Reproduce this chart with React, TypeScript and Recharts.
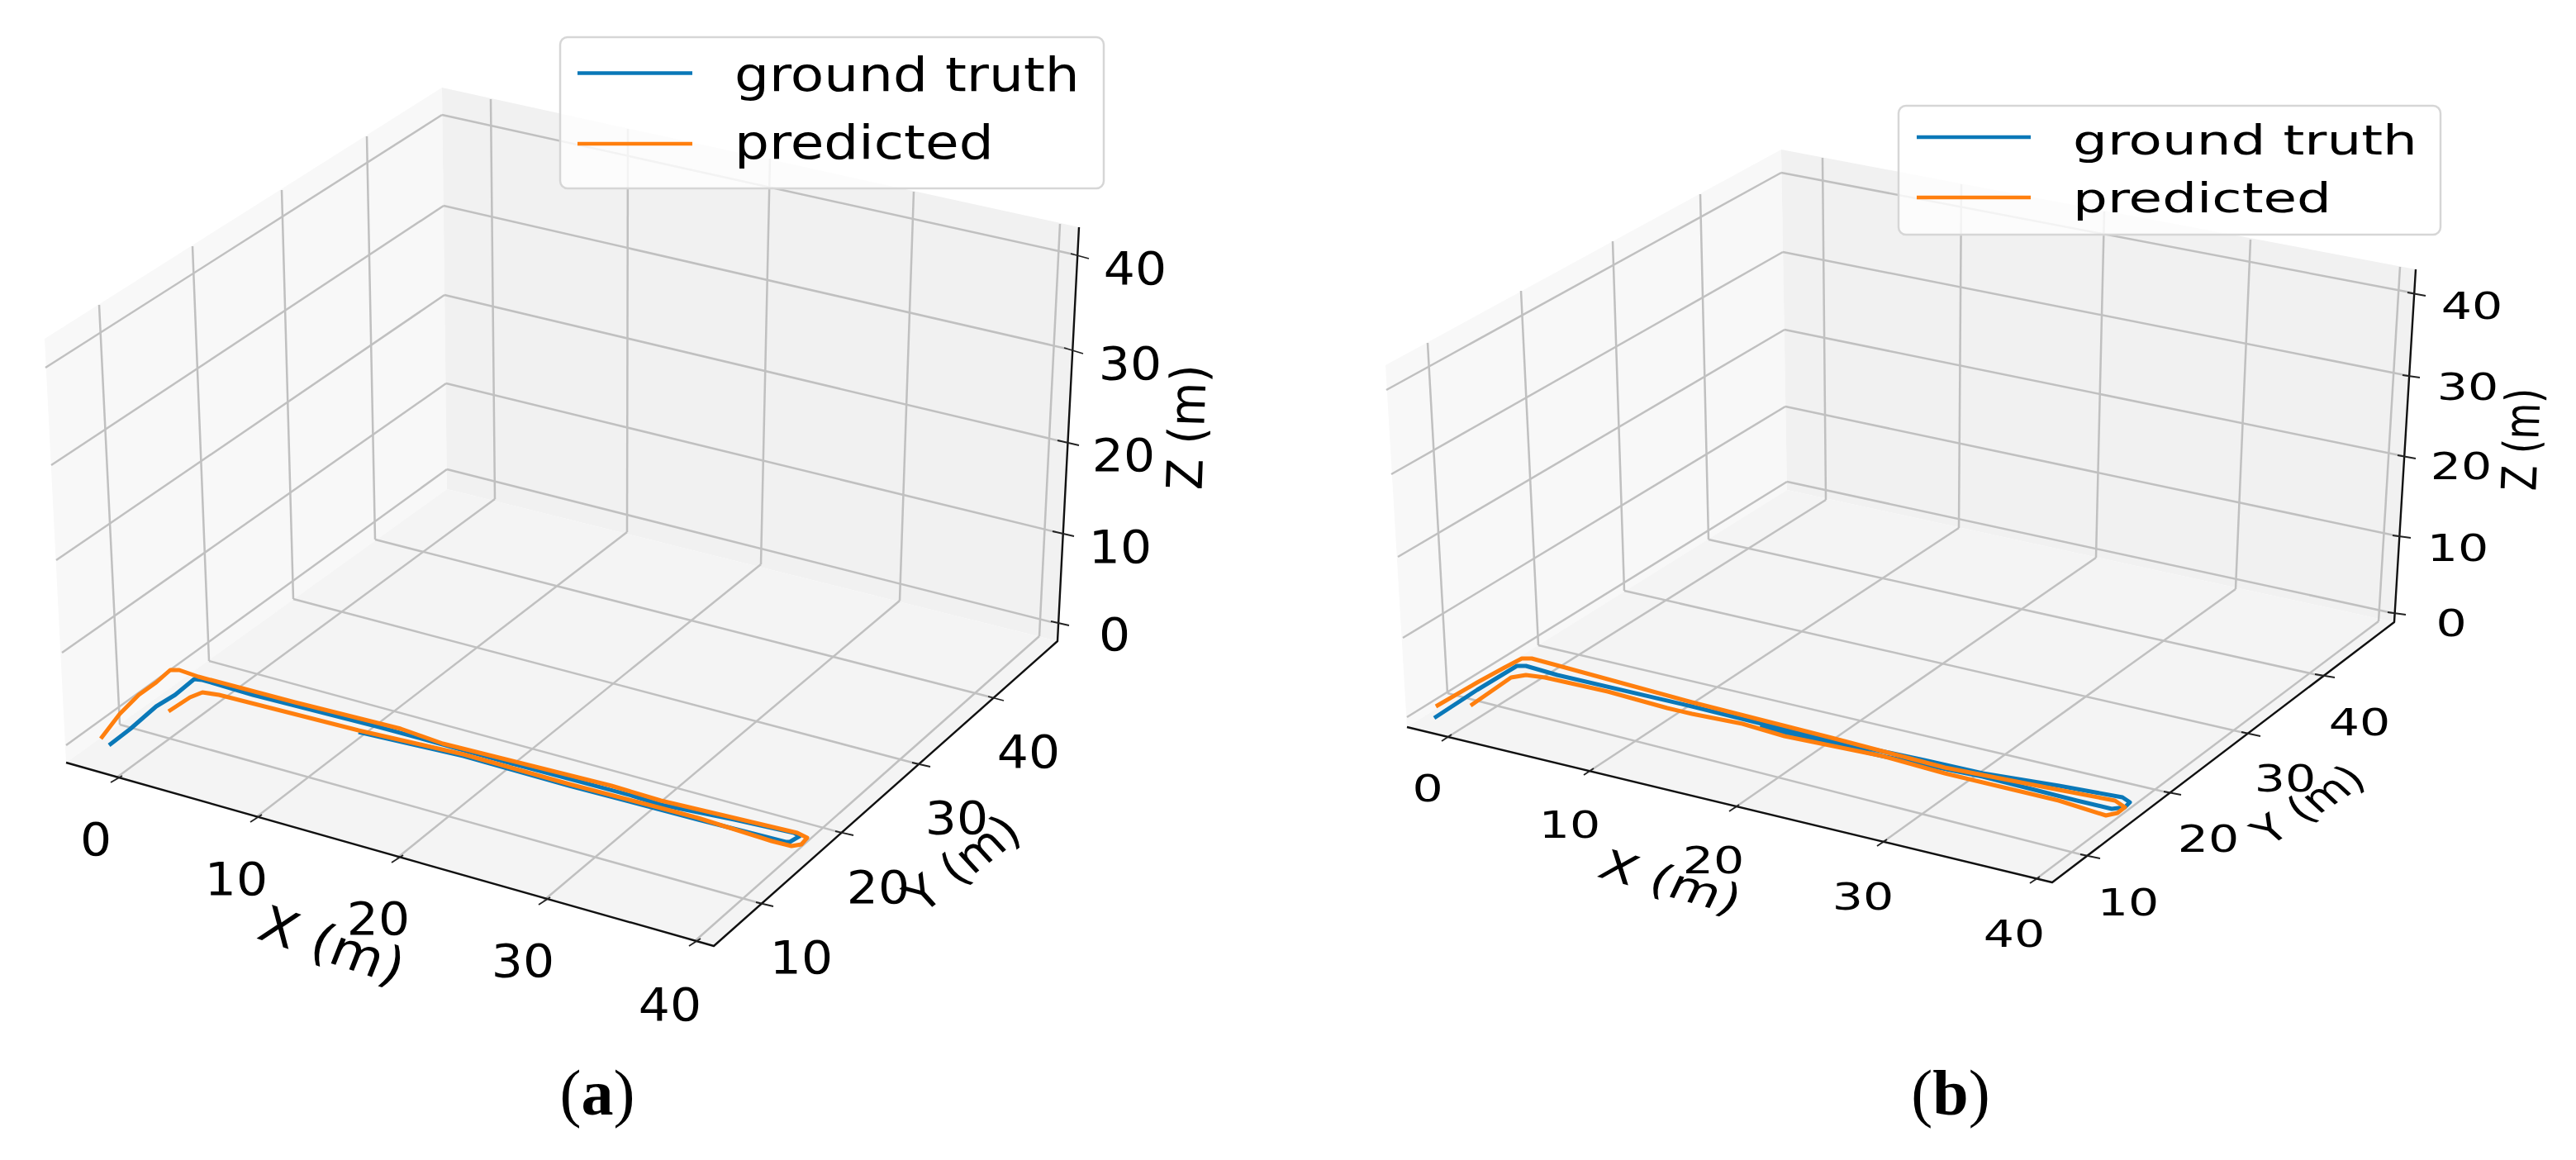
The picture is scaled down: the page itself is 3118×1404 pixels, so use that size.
import { Legend, ScatterChart, Scatter, XAxis, YAxis } from 'recharts';

type Pt = [number, number];
type Seg = [number, number, number, number];
type Lbl = [string, number, number];

const BLUE = '#0a78b8';
const ORANGE = '#ff7f0e';
const GRID = '#c0c0c0';
const SERIES_NAMES = ['ground truth', 'predicted'];
const Z_LABELS = ['40', '30', '20', '10', '0'];
const XY_LABELS = ['0', '10', '20', '30', '40'];

// ---- panel (a), everything in its pixel plane ----
const aLeftWall: Pt[] = [[54, 410], [535, 106], [541, 592], [80, 923]];
const aRightWall: Pt[] = [[535, 106], [1306, 275], [1280, 776], [541, 592]];
const aFloor: Pt[] = [[541, 592], [1280, 776], [864, 1145], [80, 923]];
const aGrid: Seg[] = [
  [535, 139, 55, 445], [537, 249, 62, 563], [538, 357, 68, 678], [540, 464, 75, 790], [541, 568, 80, 902],
  [535, 139, 1300, 308], [537, 249, 1291, 422], [538, 357, 1284, 534], [540, 464, 1278, 644], [541, 568, 1273, 753],
  [594, 120, 599, 604], [760, 156, 759, 644], [932, 192, 921, 683], [1106, 232, 1089, 727], [1283, 271, 1258, 770],
  [120, 369, 145, 877], [233, 298, 253, 800], [341, 230, 355, 725], [444, 165, 454, 653],
  [599, 604, 140, 942], [759, 644, 309, 990], [921, 683, 480, 1039], [1089, 727, 658, 1090], [1258, 770, 840, 1140],
  [145, 877, 923, 1094], [253, 800, 1019, 1008], [355, 725, 1112, 925], [454, 653, 1204, 845],
];
const aAxes: Pt[] = [[80, 923], [864, 1145], [1280, 776], [1306, 275]];
const aTicks: Seg[] = [
  [134, 947, 148, 939], [303, 995, 317, 986], [474, 1044, 488, 1035], [652, 1095, 666, 1086], [834, 1145, 848, 1136],
  [915, 1092, 936, 1097], [1011, 1006, 1033, 1011], [1104, 923, 1126, 928], [1196, 843, 1215, 848],
  [1296, 307, 1318, 313], [1288, 421, 1311, 428], [1280, 533, 1306, 539], [1274, 643, 1300, 649], [1272, 752, 1294, 757],
];
const aTruth: Pt[] = [
  [132, 902], [158, 882], [189, 855], [212, 841], [235, 822], [245, 823], [306, 841], [459, 880], [612, 922],
  [765, 963], [800, 974], [889, 992], [961, 1008], [968, 1012], [956, 1019], [951, 1019], [845, 992], [689, 951],
  [561, 915], [434, 886],
];
const aPredicted: Pt[] = [
  [122, 894], [145, 864], [168, 841], [189, 826], [206, 811], [217, 811], [240, 819], [357, 850], [485, 882],
  [536, 900], [612, 919], [740, 951], [800, 969], [889, 990], [965, 1008], [977, 1014], [970, 1022], [958, 1024],
  [934, 1018], [845, 990], [800, 978], [689, 949], [561, 913], [434, 884], [265, 841], [245, 838], [230, 844], [204, 861],
];
const aXPos: Pt[] = [[116, 1016], [286, 1064], [458, 1112], [633, 1163], [811, 1216]];
const aYPos: Pt[] = [[970, 1159], [1063, 1074], [1158, 990], [1245, 910]];
const aZPos: Pt[] = [[1374, 325], [1368, 440], [1360, 551], [1356, 662], [1349, 768]];

// ---- panel (b) ----
const bLeftWall: Pt[] = [[1677, 442], [2156, 181], [2163, 593], [1703, 880]];
const bRightWall: Pt[] = [[2156, 181], [2924, 326], [2898, 753], [2163, 593]];
const bFloor: Pt[] = [[2163, 593], [2898, 753], [2484, 1068], [1703, 880]];
const bGrid: Seg[] = [
  [2156, 209, 1678, 472], [2158, 305, 1684, 574], [2160, 399, 1692, 674], [2161, 492, 1698, 772], [2163, 583, 1703, 868],
  [2156, 209, 2923, 355], [2158, 305, 2916, 455], [2160, 399, 2909, 552], [2161, 492, 2903, 649], [2163, 583, 2896, 742],
  [2206, 191, 2210, 605], [2374, 223, 2371, 639], [2547, 256, 2537, 675], [2724, 290, 2706, 713], [2905, 323, 2879, 752],
  [1728, 415, 1752, 839], [1841, 352, 1862, 781], [1952, 292, 1966, 715], [2058, 235, 2068, 653],
  [2210, 605, 1751, 893], [2371, 639, 1923, 934], [2537, 675, 2099, 978], [2706, 713, 2278, 1020], [2879, 752, 2463, 1065],
  [1752, 839, 2526, 1036], [1862, 781, 2627, 960], [1966, 715, 2721, 888], [2068, 653, 2810, 818],
];
const bAxes: Pt[] = [[1703, 880], [2484, 1068], [2898, 753], [2924, 326]];
const bTicks: Seg[] = [
  [1745, 897, 1757, 889], [1917, 938, 1929, 930], [2093, 982, 2105, 974], [2272, 1024, 2284, 1016], [2457, 1069, 2469, 1061],
  [2518, 1034, 2542, 1039], [2619, 958, 2640, 962], [2713, 886, 2736, 891], [2802, 816, 2826, 820],
  [2914, 354, 2936, 358], [2908, 454, 2929, 457], [2902, 551, 2924, 555], [2896, 648, 2918, 651], [2890, 741, 2912, 744],
];
const bTruth: Pt[] = [
  [1736, 869], [1788, 835], [1836, 806], [1847, 806], [1885, 817], [2048, 855], [2201, 893], [2329, 920], [2400, 936],
  [2492, 951], [2569, 965], [2578, 971], [2572, 977], [2556, 979], [2514, 969], [2400, 940], [2278, 915], [2130, 880],
];
const bPredicted: Pt[] = [
  [1738, 855], [1788, 826], [1821, 808], [1842, 797], [1854, 797], [1880, 804], [2048, 850], [2217, 893], [2354, 929],
  [2400, 938], [2492, 956], [2560, 969], [2572, 977], [2563, 984], [2549, 987], [2492, 969], [2400, 947], [2354, 936],
  [2278, 915], [2160, 891], [2109, 876], [2048, 864], [2018, 857], [1946, 837], [1870, 820], [1847, 817], [1829, 820], [1780, 854],
];
const bXPos: Pt[] = [[1728, 954], [1900, 998], [2074, 1041], [2255, 1085], [2438, 1130]];
const bYPos: Pt[] = [[2576, 1092], [2673, 1015], [2766, 942], [2856, 874]];
const bZPos: Pt[] = [[2992, 370], [2987, 468], [2979, 564], [2975, 663], [2967, 754]];

const pts = (list: Pt[]) => list.map(([x, y]) => ({ x, y }));
const labels = (names: string[], pos: Pt[]): Lbl[] => pos.map(([x, y], i) => [names[i], x, y]);

function TextMarks(items: Lbl[], fontSize: number, sx: number, rot = 0) {
  return (
    <Scatter
      data={items.map(([label, x, y]) => ({ x, y, label }))}
      legendType="none"
      isAnimationActive={false}
      shape={(p: any) => (
        <text
          transform={`translate(${p.cx},${p.cy}) scale(${sx},1) rotate(${rot})`}
          textAnchor="middle"
          dominantBaseline="central"
          fontFamily="DejaVu Sans"
          fontSize={fontSize}
          fill="#000"
        >
          {p.payload.label}
        </text>
      )}
    />
  );
}

function polyline(list: Pt[], stroke: string, strokeWidth: number, key: string, name?: string) {
  return (
    <Scatter
      key={key}
      name={name}
      data={pts(list)}
      fill={stroke}
      legendType={name ? 'line' : 'none'}
      isAnimationActive={false}
      line={{ stroke, strokeWidth, strokeLinejoin: 'round', strokeLinecap: 'butt' }}
      shape={() => <g />}
    />
  );
}

function pane(list: Pt[], fill: string) {
  return (
    <Scatter
      data={pts(list)}
      legendType="none"
      isAnimationActive={false}
      line={{ fill, stroke: 'none' }}
      shape={() => <g />}
    />
  );
}

type PanelProps = {
  from: number;
  walls: Pt[][];
  grid: Seg[];
  axes: Pt[];
  ticks: Seg[];
  truth: Pt[];
  predicted: Pt[];
  xPos: Pt[];
  yPos: Pt[];
  zPos: Pt[];
  tickFont: number;
  tickSx: number;
  titles: { x: Pt; y: Pt; z: Pt };
  caption: any;
  box: { left: number; top: number; width: number; height: number; lineX: number; lineW: number; textX: number; rows: number[]; font: number; sx: number };
};

function Panel(props: PanelProps) {
  const { from, walls, grid, axes, ticks, truth, predicted, xPos, yPos, zPos, tickFont, tickSx, titles, caption, box } = props;
  const W = 1559;
  const legendContent = ({ payload }: any) => {
    // only the two trajectories belong in the legend
    const entries = SERIES_NAMES.map((n) => (payload || []).find((e: any) => e.value === n)).filter(Boolean);
    return (
      <svg width={box.width} height={box.height} style={{ display: 'block', overflow: 'visible' }}>
        <rect x={1} y={1} width={box.width - 2} height={box.height - 2} rx={9} fill="rgba(255,255,255,0.8)" stroke="#d6d6d6" strokeWidth={2.5} />
        {entries.map((entry: any, i: number) => (
          <g key={entry.value}>
            <line x1={box.lineX} x2={box.lineX + box.lineW} y1={box.rows[i]} y2={box.rows[i]} stroke={entry.color} strokeWidth={4.5} />
            <text
              transform={`translate(${box.textX},${box.rows[i] + (i === 0 ? 21 : 18)}) scale(${box.sx},1)`}
              fontFamily="DejaVu Sans"
              fontSize={box.font}
              fill="#000"
            >
              {entry.value}
            </text>
          </g>
        ))}
      </svg>
    );
  };
  return (
    <ScatterChart width={W} height={1404} margin={{ top: 0, right: 0, bottom: 0, left: 0 }}>
      <XAxis type="number" dataKey="x" domain={[from, from + W]} hide allowDataOverflow />
      <YAxis type="number" dataKey="y" domain={[0, 1404]} reversed hide allowDataOverflow />
      {pane(walls[0], '#f8f8f8')}
      {pane(walls[1], '#f1f1f1')}
      {pane(walls[2], '#f4f4f4')}
      {grid.map((s, i) => polyline([[s[0], s[1]], [s[2], s[3]]], GRID, 2.5, `g${i}`))}
      {polyline(axes, '#111', 2.4, 'axes')}
      {ticks.map((s, i) => polyline([[s[0], s[1]], [s[2], s[3]]], '#222', 1.8, `t${i}`))}
      {polyline(truth, BLUE, 5, 'truth', SERIES_NAMES[0])}
      {polyline(predicted, ORANGE, 5, 'predicted', SERIES_NAMES[1])}
      {TextMarks(labels(XY_LABELS, xPos), tickFont, tickSx)}
      {TextMarks(labels(XY_LABELS.slice(1), yPos), tickFont, tickSx)}
      {TextMarks(labels(Z_LABELS, zPos), tickFont, tickSx)}
      {TextMarks([['X (m)', titles.x[0], titles.x[1]]], tickFont * 1.1, tickSx, 20)}
      {TextMarks([['Y (m)', titles.y[0], titles.y[1]]], tickFont, tickSx, -40)}
      {TextMarks([['Z (m)', titles.z[0], titles.z[1]]], tickFont, tickSx, -88)}
      {caption}
      <Legend
        layout="vertical"
        align="center"
        verticalAlign="middle"
        wrapperStyle={{ left: box.left - from, top: box.top, width: box.width, height: box.height }}
        content={legendContent}
      />
    </ScatterChart>
  );
}

function Caption(x: number, y: number, letter: string) {
  return (
    <Scatter
      data={[{ x, y, letter }]}
      legendType="none"
      isAnimationActive={false}
      shape={(p: any) => (
        <text x={p.cx} y={p.cy} textAnchor="middle" fontFamily="Liberation Serif" fontSize={78} fill="#000">
          (<tspan fontWeight="bold">{p.payload.letter}</tspan>)
        </text>
      )}
    />
  );
}

export default function App() {
  return (
    <div style={{ position: 'absolute', left: 0, top: 0, width: 3118, height: 1404, display: 'flex', background: '#fff' }}>
      <Panel
        from={0}
        walls={[aLeftWall, aRightWall, aFloor]}
        grid={aGrid}
        axes={aAxes}
        ticks={aTicks}
        truth={aTruth}
        predicted={aPredicted}
        xPos={aXPos}
        yPos={aYPos}
        zPos={aZPos}
        tickFont={55}
        tickSx={1.09}
        titles={{ x: [402, 1144], y: [1165, 1045], z: [1437, 517] }}
        caption={Caption(723, 1349, 'a')}
        box={{ left: 677, top: 44, width: 660, height: 185, lineX: 22, lineW: 139, textX: 212, rows: [44.5, 130], font: 57, sx: 1.16 }}
      />
      <Panel
        from={1559}
        walls={[bLeftWall, bRightWall, bFloor]}
        grid={bGrid}
        axes={bAxes}
        ticks={bTicks}
        truth={bTruth}
        predicted={bPredicted}
        xPos={bXPos}
        yPos={bYPos}
        zPos={bZPos}
        tickFont={45}
        tickSx={1.3}
        titles={{ x: [2022, 1068], y: [2794, 974], z: [3052, 532] }}
        caption={Caption(2361, 1349, 'b')}
        box={{ left: 2297, top: 127, width: 658, height: 158, lineX: 23, lineW: 138, textX: 212, rows: [39, 112], font: 50, sx: 1.32 }}
      />
    </div>
  );
}
